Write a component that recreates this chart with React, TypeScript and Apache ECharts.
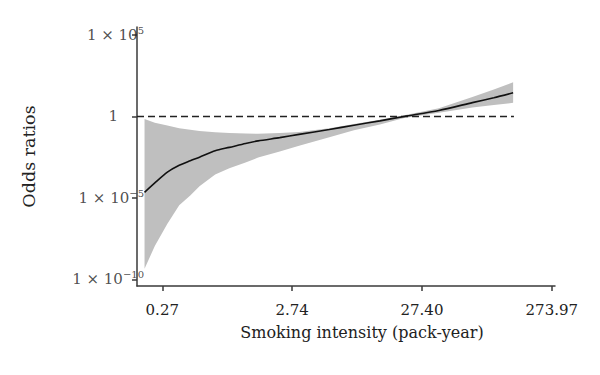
import React, { useEffect, useRef } from "react";
import * as echarts from "echarts";

// Smoking intensity (pack-year) sample points
const xs = [0.2, 0.24, 0.3, 0.37, 0.45, 0.53, 0.7, 0.9, 1.2, 1.5, 2.2, 3.1, 5.3, 8.2, 13, 20, 37, 67, 98, 138];
// Odds ratio estimate
const oddsRatio = [2.19e-5, 8.3e-5, 3.8e-4, 1.0e-3, 1.9e-3, 3.16e-3, 7.9e-3, 1.26e-2, 2.19e-2, 3.16e-2, 5.0e-2, 7.9e-2, 0.158, 0.288, 0.537, 1.0, 2.34, 7.08, 14.1, 28.2];
// Upper confidence bound
const upperCI = [0.708, 0.417, 0.282, 0.191, 0.151, 0.126, 0.107, 0.0955, 0.0891, 0.0871, 0.0955, 0.11, 0.191, 0.347, 0.631, 1.2, 3.16, 15.8, 44.7, 126];
// Lower confidence bound
const lowerCI = [4.5e-10, 1.1e-8, 2.6e-7, 3.5e-6, 1.4e-5, 5.1e-5, 2.75e-4, 6.6e-4, 1.5e-3, 3.0e-3, 7.1e-3, 1.58e-2, 5.2e-2, 0.141, 0.316, 0.794, 1.66, 3.55, 5.0, 6.9];

const xTickValues = [0.27397, 2.7397, 27.397, 273.97];
const xTickLabels = ["0.27", "2.74", "27.40", "273.97"];
const yTickValues = [1e-10, 1e-5, 1, 1e5];
const yTickExponents = ["\u221210", "\u22125", "", "5"];
const refLine = [1, 1];
const refLineX = [0.175, 140];
const X_MIN = 0.175;
const X_MAX = 290;

const FONT = "DejaVu Serif";
const TEXT = "#222";
const AXIS = "#3a3a3a";
const SCI_LABEL_SHIFT = 26;

function nearestIndex(vals: number[], v: number) {
  let best = 0;
  for (let i = 0; i < vals.length; i++) {
    if (Math.abs(Math.log10(vals[i]) - Math.log10(v)) < Math.abs(Math.log10(vals[best]) - Math.log10(v))) best = i;
  }
  return best;
}

export default function App() {
  const ref = useRef<HTMLDivElement>(null);
  useEffect(() => {
    if (!ref.current) return;
    const chart = echarts.init(ref.current, null, { renderer: "svg" });
    const supBase = { fontFamily: FONT, fontSize: 10, color: TEXT, lineHeight: 10, padding: [0, 0, 9, 0] };
    const option: any = {
      animation: false,
      backgroundColor: "#ffffff",
      grid: { left: 137, right: 45, top: 27, bottom: 89, containLabel: false },
      xAxis: {
        type: "log",
        logBase: 10,
        min: X_MIN,
        max: X_MAX,
        name: "Smoking intensity (pack-year)",
        nameLocation: "middle",
        nameGap: 38,
        nameTextStyle: { fontFamily: FONT, fontSize: 16, color: TEXT, padding: [0, 0, 0, 32] },
        axisLine: { show: true, lineStyle: { color: AXIS, width: 1.5 } },
        axisTick: { show: true, length: 5, lineStyle: { color: AXIS, width: 1.5 }, customValues: xTickValues },
        axisLabel: {
          customValues: xTickValues,
          margin: 16,
          fontFamily: FONT,
          fontSize: 15,
          color: TEXT,
          formatter: (v: number) => xTickLabels[nearestIndex(xTickValues, v)],
        },
        splitLine: { show: false },
        minorTick: { show: false },
      },
      yAxis: {
        type: "log",
        logBase: 10,
        min: 3.9e-11,
        max: 3.1e5,
        name: "Odds ratios",
        nameLocation: "middle",
        nameGap: 99,
        nameMoveOverlap: false,
        nameTextStyle: { fontFamily: FONT, fontSize: 17.5, color: TEXT },
        axisLine: { show: true, lineStyle: { color: AXIS, width: 1.5 } },
        axisTick: { show: true, length: 5, lineStyle: { color: AXIS, width: 1.5 }, customValues: yTickValues },
        axisLabel: { show: false },
        splitLine: { show: false },
        minorTick: { show: false },
      },
      series: [
        {
          type: "custom",
          name: "CI",
          coordinateSystem: "cartesian2d",
          clip: false,
          silent: true,
          z: 1,
          data: [[xs[0], upperCI[0]]],
          renderItem: (params: any, api: any) => {
            const pts: number[][] = [];
            for (let i = 0; i < xs.length; i++) pts.push(api.coord([xs[i], upperCI[i]]));
            for (let i = xs.length - 1; i >= 0; i--) pts.push(api.coord([xs[i], lowerCI[i]]));
            return { type: "polygon", shape: { points: pts }, style: { fill: "#bfbfbf", stroke: "none" } };
          },
        },
        {
          type: "line",
          name: "ref",
          z: 3,
          data: refLineX.map((x, i) => [x, refLine[i]]),
          showSymbol: false,
          symbol: "none",
          lineStyle: { color: "#222", width: 1.4, type: [7, 4] },
          silent: true,
        },
        {
          type: "line",
          name: "OR",
          z: 4,
          data: xs.map((x, i) => [x, oddsRatio[i]]),
          showSymbol: false,
          symbol: "none",
          smooth: 0.25,
          lineStyle: { color: "#111", width: 1.6 },
          silent: true,
        },
        {
          type: "scatter",
          name: "yTickLabels",
          z: 5,
          clip: false,
          silent: true,
          symbol: "circle",
          symbolSize: 2,
          itemStyle: { color: "rgba(0,0,0,0)" },
          data: yTickValues.map((v, i) => ({
            value: [X_MIN, v],
            label: yTickExponents[i] ? { offset: [SCI_LABEL_SHIFT, 0] } : {},
          })),
          label: {
            show: true,
            position: "left",
            distance: 18,
            fontFamily: FONT,
            fontSize: 15,
            color: TEXT,
            formatter: (p: any) => {
              const ex = yTickExponents[p.dataIndex];
              if (!ex) return "{b|1}";
              return "{b|1 \u00d7 10}{sup|" + ex + "}";
            },
            rich: {
              b: { fontFamily: FONT, fontSize: 15, color: TEXT },
              sup: supBase,
            },
          },
        },
      ],
    };
    chart.setOption(option);
    return () => chart.dispose();
  }, []);
  return <div ref={ref} style={{ position: "fixed", left: 0, top: 0, width: 600, height: 375, background: "#fff" }} />;
}
